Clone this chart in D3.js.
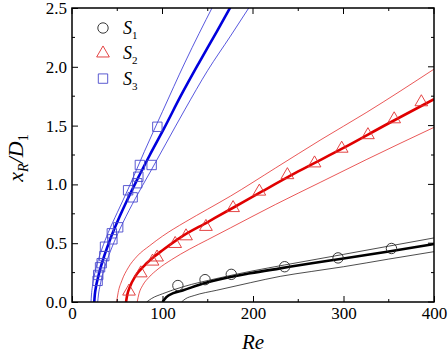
<!DOCTYPE html>
<html>
<head>
<meta charset="utf-8">
<script src="https://cdn.jsdelivr.net/npm/d3@7"></script>
<style>
  body { margin: 0; background: #fff; }
  svg { display: block; font-family: "Liberation Serif", "Times New Roman", serif; }
</style>
</head>
<body>
<svg id="chart" width="448" height="358"></svg>
<script>
const svg = d3.select("#chart"),
    width = +svg.attr("width"),
    height = +svg.attr("height");

const margin = {top: 8, right: 14, bottom: 56, left: 72};

// measured points
const s1_re = [117, 147, 176, 235, 294, 353];
const s1_y  = [0.14, 0.19, 0.235, 0.30, 0.375, 0.455];

const s2_re = [63, 76, 89, 94, 114, 126, 148, 178, 207, 238, 268, 298, 327, 356, 386];
const s2_y  = [0.09, 0.245, 0.345, 0.38, 0.495, 0.56, 0.64, 0.80, 0.94, 1.08, 1.18, 1.305, 1.42, 1.555, 1.70];

const s3_re = [28.3, 29, 31, 32.8, 35.7, 36.5, 44, 44.6, 51, 62, 67, 72, 73.3, 75, 88, 94.3];
const s3_y  = [0.18, 0.23, 0.295, 0.33, 0.39, 0.47, 0.584, 0.533, 0.635, 0.95, 0.89, 1.01, 1.065, 1.165, 1.165, 1.49];

// fitted curves and their bounds
const fit1_mid = [[100,0],[104,0.04],[112,0.075],[123,0.10],[140,0.145],[160,0.187],[197,0.244],[230,0.286],[265,0.33],[300,0.37],[350,0.43],[400,0.493]];
const fit1_hi  = [[82.5,0],[88,0.03],[100,0.07],[123,0.13],[160,0.2],[200,0.265],[235,0.315],[300,0.405],[350,0.475],[400,0.545]];
const fit1_lo  = [[121,0],[125,0.025],[135,0.055],[160,0.10],[197,0.164],[230,0.218],[265,0.26],[300,0.30],[350,0.365],[400,0.428]];

const fit2_mid = [[59.7,0],[61,0.06],[64,0.13],[70,0.22],[80,0.31],[90,0.38],[100,0.44],[120,0.55],[150,0.68],[180,0.81],[210,0.94],[250,1.11],[300,1.31],[350,1.52],[400,1.724]];
const fit2_hi  = [[49.3,0],[51,0.08],[55,0.18],[62,0.29],[72,0.39],[86,0.48],[100,0.56],[125,0.68],[150,0.79],[175,0.90],[225,1.14],[275,1.38],[325,1.61],[400,1.98]];
const fit2_lo  = [[72,0],[74,0.07],[78,0.14],[85,0.21],[95,0.28],[110,0.36],[130,0.45],[150,0.53],[175,0.63],[225,0.83],[275,1.02],[325,1.21],[400,1.485]];

const fit3_mid = [[24.6,0],[25.2,0.06],[26.5,0.13],[28.5,0.2],[31.5,0.29],[36,0.4],[42,0.53],[50,0.68],[60,0.85],[72,1.04],[86,1.25],[102,1.48],[120,1.75],[140,2.03],[160,2.30],[176,2.52]];
const fit3_hi  = [[21,0],[21.5,0.06],[22.5,0.13],[24.5,0.22],[28,0.33],[33,0.45],[40,0.59],[50,0.76],[62,0.96],[80,1.28],[100,1.62],[125,2.04],[156,2.52]];
const fit3_lo  = [[28.4,0],[29.2,0.06],[31,0.14],[34,0.24],[39,0.36],[46,0.5],[56,0.67],[70,0.88],[86,1.1],[104,1.35],[125,1.64],[150,1.97],[175,2.26],[197,2.52]];

const x_ticks = [0, 100, 200, 300, 400];
const y_ticks = [0.0, 0.5, 1.0, 1.5, 2.0, 2.5];

const x = d3.scaleLinear().domain([0, 400]).range([margin.left, width - margin.right]);
const y = d3.scaleLinear().domain([0, 2.5]).range([height - margin.bottom, margin.top]);

svg.append("clipPath").attr("id", "clip")
    .append("rect")
    .attr("x", x(0)).attr("y", y(2.5))
    .attr("width", x(400) - x(0)).attr("height", y(0) - y(2.5));

const line = d3.line()
    .x(d => x(d[0]))
    .y(d => y(d[1]))
    .curve(d3.curveMonotoneX);

const curves = [
    {pts: fit1_hi,  col: "#000", w: 0.7},
    {pts: fit1_lo,  col: "#000", w: 0.7},
    {pts: fit1_mid, col: "#000", w: 2.6},
    {pts: fit2_hi,  col: "#e01010", w: 0.7},
    {pts: fit2_lo,  col: "#e01010", w: 0.7},
    {pts: fit2_mid, col: "#e00000", w: 2.6},
    {pts: fit3_hi,  col: "#1010d0", w: 0.7},
    {pts: fit3_lo,  col: "#1010d0", w: 0.7},
    {pts: fit3_mid, col: "#0000dd", w: 2.6}
];

const g = svg.append("g").attr("clip-path", "url(#clip)");
g.selectAll("path.fit")
    .data(curves)
    .enter()
    .append("path")
    .attr("class", "fit")
    .attr("d", d => line(d.pts))
    .attr("fill", "none")
    .attr("stroke", d => d.col)
    .attr("stroke-width", d => d.w);

// markers
const circ = d3.symbol().type(d3.symbolCircle).size(85);
const tri = d3.symbol().type(d3.symbolTriangle).size(70);
const sq = d3.symbol().type(d3.symbolSquare).size(88);

const pts1 = s1_re.map((r, i) => [r, s1_y[i]]);
const pts2 = s2_re.map((r, i) => [r, s2_y[i]]);
const pts3 = s3_re.map((r, i) => [r, s3_y[i]]);

g.selectAll("path.s1").data(pts1).enter().append("path")
    .attr("transform", d => "translate(" + x(d[0]) + "," + y(d[1]) + ")")
    .attr("d", circ).attr("fill", "none").attr("stroke", "#222").attr("stroke-width", 0.9);

g.selectAll("path.s2").data(pts2).enter().append("path")
    .attr("transform", d => "translate(" + x(d[0]) + "," + y(d[1]) + ")")
    .attr("d", tri).attr("fill", "none").attr("stroke", "#e03030").attr("stroke-width", 0.9);

g.selectAll("path.s3").data(pts3).enter().append("path")
    .attr("transform", d => "translate(" + x(d[0]) + "," + y(d[1]) + ")")
    .attr("d", sq).attr("fill", "none").attr("stroke", "#4848cc").attr("stroke-width", 0.9);

// frame with inward ticks on all four sides
const axisB = d3.axisBottom(x).tickValues(x_ticks).tickSize(-6).tickPadding(5).tickFormat(d3.format("d"));
const axisL = d3.axisLeft(y).tickValues(y_ticks).tickSize(-6).tickPadding(5).tickFormat(d3.format(".1f"));

const minorX = d3.range(50, 400, 100);
const minorY = d3.range(0.25, 2.5, 0.5);

function drawTicks(vals, len, side) {
    svg.append("g").selectAll("line")
        .data(vals).enter().append("line")
        .attr("x1", d => side === "b" || side === "t" ? x(d) : (side === "l" ? x(0) : x(400)))
        .attr("x2", d => side === "b" || side === "t" ? x(d) : (side === "l" ? x(0) + len : x(400) - len))
        .attr("y1", d => side === "l" || side === "r" ? y(d) : (side === "b" ? y(0) : y(2.5)))
        .attr("y2", d => side === "l" || side === "r" ? y(d) : (side === "b" ? y(0) - len : y(2.5) + len))
        .attr("stroke", "#000").attr("stroke-width", 1);
}
drawTicks(minorX, 3, "b");
drawTicks(minorX, 3, "t");
drawTicks(x_ticks, 6, "t");
drawTicks(minorY, 3, "l");
drawTicks(minorY, 3, "r");
drawTicks(y_ticks, 6, "r");

const gx = svg.append("g").attr("transform", "translate(0," + y(0) + ")").call(axisB);
const gy = svg.append("g").attr("transform", "translate(" + x(0) + ",0)").call(axisL);
[gx, gy].forEach(a => {
    a.attr("font-family", null);
    a.select(".domain").remove();
    a.selectAll("text").style("font-size", "17px").attr("fill", "#000");
    a.selectAll("line").attr("stroke-width", 1);
});

svg.append("rect")
    .attr("x", x(0)).attr("y", y(2.5))
    .attr("width", x(400) - x(0)).attr("height", y(0) - y(2.5))
    .attr("fill", "none").attr("stroke", "#000").attr("stroke-width", 1.5);

// legend
const legend = [
    {sym: circ, col: "#222", label: "1"},
    {sym: tri, col: "#e03030", label: "2"},
    {sym: sq, col: "#4848cc", label: "3"}
];
const lg = svg.append("g").selectAll("g").data(legend).enter().append("g")
    .attr("transform", (d, i) => "translate(103," + (28 + i * 25.3) + ")");
lg.append("path").attr("d", d => d.sym()).attr("fill", "none")
    .attr("stroke", d => d.col).attr("stroke-width", 0.9);
const lt = lg.append("text").attr("x", 20).attr("y", 6)
    .style("font-size", "18px").style("font-style", "italic");
lt.append("tspan").text("S");
lt.append("tspan").attr("dy", 5).style("font-size", "11px").style("font-style", "normal").text(d => d.label);

// axis titles
svg.append("text")
    .attr("x", (x(0) + x(400)) / 2).attr("y", 349)
    .attr("text-anchor", "middle")
    .style("font-size", "21px").style("font-style", "italic")
    .text("Re");

const yt = svg.append("text")
    .attr("transform", "translate(23,158) rotate(-90)")
    .attr("text-anchor", "middle")
    .style("font-size", "22px").style("font-style", "italic");
yt.append("tspan").text("x");
yt.append("tspan").attr("dy", 5).style("font-size", "14px").text("R");
yt.append("tspan").attr("dy", -5).text("/D");
yt.append("tspan").attr("dy", 5).style("font-size", "14px").style("font-style", "normal").text("1");
</script>
</body>
</html>
